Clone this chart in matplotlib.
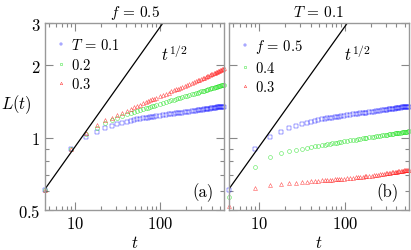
import numpy as np
import matplotlib.pyplot as plt
from matplotlib.ticker import FixedLocator, FixedFormatter, LogLocator, NullFormatter

plt.rcParams['mathtext.fontset'] = 'cm'
plt.rcParams['font.family'] = 'serif'
plt.rcParams['font.serif'] = ['cmr10', 'DejaVu Serif']

# sampling times (same for every series)
t = [4.47, 8.94, 13.41, 17.88, 22.35, 26.82, 31.29, 35.76, 40.23, 44.7,
     49.17, 53.64, 58.11, 62.58, 67.05, 71.52, 75.99, 80.46, 84.93, 89.4,
     98.34, 107.28, 116.22, 125.16, 134.1, 143.04, 151.98, 160.92, 169.86, 178.8,
     192.21, 205.62, 219.03, 232.44, 245.85, 259.26, 272.67, 286.08, 299.49, 312.9,
     326.31, 339.72, 353.13, 366.54, 379.95, 393.36, 406.77, 420.18, 433.59, 447.0,
     460.41, 473.82, 487.23, 500.64, 514.05, 527.46, 540.87, 554.28]

# panel (a): f = 0.5, different T  (T = 0.1 is also f = 0.5 in panel (b))
L_T01 = [0.607, 0.900, 1.010, 1.053, 1.100, 1.120, 1.137, 1.152, 1.165, 1.176,
         1.185, 1.192, 1.198, 1.204, 1.209, 1.213, 1.217, 1.221, 1.225, 1.228,
         1.234, 1.240, 1.245, 1.250, 1.254, 1.258, 1.262, 1.266, 1.270, 1.273,
         1.278, 1.282, 1.286, 1.290, 1.294, 1.297, 1.301, 1.304, 1.307, 1.310,
         1.313, 1.316, 1.318, 1.321, 1.323, 1.326, 1.328, 1.330, 1.332, 1.335,
         1.337, 1.339, 1.340, 1.342, 1.344, 1.346, 1.348, 1.349]
L_T02 = [0.607, 0.900, 1.035, 1.095, 1.150, 1.180, 1.207, 1.230, 1.250, 1.268,
         1.283, 1.296, 1.307, 1.317, 1.327, 1.336, 1.345, 1.353, 1.361, 1.369,
         1.383, 1.396, 1.408, 1.419, 1.429, 1.439, 1.449, 1.457, 1.466, 1.474,
         1.485, 1.496, 1.506, 1.516, 1.525, 1.534, 1.542, 1.550, 1.558, 1.565,
         1.572, 1.579, 1.585, 1.592, 1.598, 1.604, 1.610, 1.615, 1.621, 1.626,
         1.631, 1.636, 1.641, 1.646, 1.650, 1.655, 1.659, 1.664]
L_T03 = [0.607, 0.900, 1.050, 1.125, 1.180, 1.211, 1.243, 1.272, 1.298, 1.321,
         1.340, 1.358, 1.374, 1.390, 1.404, 1.418, 1.431, 1.443, 1.455, 1.466,
         1.487, 1.507, 1.525, 1.542, 1.558, 1.573, 1.588, 1.601, 1.614, 1.627,
         1.645, 1.661, 1.677, 1.692, 1.706, 1.720, 1.733, 1.746, 1.758, 1.769,
         1.781, 1.791, 1.802, 1.812, 1.822, 1.834, 1.844, 1.854, 1.865, 1.875,
         1.884, 1.894, 1.903, 1.912, 1.921, 1.929, 1.939, 1.948]

# panel (b): T = 0.1, different f
L_f05 = L_T01
L_f04 = [0.565, 0.757, 0.828, 0.864, 0.879, 0.891, 0.901, 0.909, 0.916, 0.922,
         0.928, 0.933, 0.937, 0.941, 0.945, 0.948, 0.951, 0.954, 0.957, 0.960,
         0.966, 0.971, 0.975, 0.979, 0.983, 0.986, 0.990, 0.993, 0.996, 0.999,
         1.003, 1.007, 1.010, 1.013, 1.017, 1.020, 1.023, 1.025, 1.028, 1.030,
         1.033, 1.035, 1.037, 1.039, 1.042, 1.044, 1.045, 1.047, 1.049, 1.051,
         1.053, 1.054, 1.056, 1.058, 1.059, 1.061, 1.062, 1.064]
L_f03 = [0.518, 0.616, 0.635, 0.642, 0.647, 0.651, 0.654, 0.657, 0.659, 0.661,
         0.663, 0.664, 0.666, 0.667, 0.669, 0.670, 0.671, 0.672, 0.673, 0.674,
         0.676, 0.678, 0.680, 0.682, 0.684, 0.686, 0.688, 0.689, 0.691, 0.692,
         0.694, 0.696, 0.698, 0.701, 0.703, 0.705, 0.707, 0.709, 0.711, 0.713,
         0.714, 0.716, 0.718, 0.719, 0.721, 0.722, 0.723, 0.725, 0.726, 0.727,
         0.728, 0.729, 0.731, 0.732, 0.733, 0.734, 0.735, 0.736]

labels_a = [r'$T\,=\,0.1$', r'$0.2$', r'$0.3$']
labels_b = [r'$f\,=\,0.5$', r'$0.4$', r'$0.3$']
markers = ['s', 'o', '^']
colors = ['#0000ff', '#00dd00', '#ff0000']
c_half = 0.29  # prefactor of the t^(1/2) guide line

fig = plt.figure(figsize=(4.11, 2.51), dpi=100)
ax_a = fig.add_axes([0.1095, 0.159, 0.436, 0.745])
ax_b = fig.add_axes([0.557, 0.159, 0.438, 0.745])

t_line = np.array([4.0, 600.0])
for ax, series, labels, title, tag in [
        (ax_a, [L_T01, L_T02, L_T03], labels_a, r'$f\,=\,0.5$', '(a)'),
        (ax_b, [L_f05, L_f04, L_f03], labels_b, r'$T\,=\,0.1$', '(b)')]:
    for L, m, c, lab in zip(series, markers, colors, labels):
        ax.plot(t, L, ls='none', marker=m, ms=2.8, mfc='none', mec=c,
                mew=0.3, alpha=0.9, label=lab, clip_on=False)
    ax.plot(t_line, c_half * np.sqrt(t_line), 'k-', lw=0.9)
    ax.set_xscale('log')
    ax.set_yscale('log')
    ax.set_xlim(4.45, 560)
    ax.set_ylim(0.5, 3)
    ax.yaxis.set_major_locator(FixedLocator([0.5, 1, 2, 3]))
    ax.yaxis.set_minor_locator(FixedLocator([0.6, 0.7, 0.8, 0.9]))
    ax.yaxis.set_minor_formatter(NullFormatter())
    ax.xaxis.set_major_locator(FixedLocator([10, 100]))
    ax.xaxis.set_major_formatter(FixedFormatter([r'$10$', r'$100$']))
    ax.xaxis.set_minor_locator(LogLocator(base=10, subs=np.arange(2, 10)))
    ax.xaxis.set_minor_formatter(NullFormatter())
    ax.tick_params(which='both', direction='in', top=True, right=True,
                   color='#888888', labelsize=12)
    ax.tick_params(which='major', length=6, width=0.8)
    ax.tick_params(which='minor', length=3, width=0.8)
    for s in ax.spines.values():
        s.set_color('#999999')
        s.set_linewidth(1.0)
    ax.set_title(title, fontsize=11, pad=5)
    ax.set_xlabel(r'$t$', fontsize=12, labelpad=2)
    ax.text(0.94, 0.096, tag, transform=ax.transAxes, ha='right', va='center',
            fontsize=12)
    leg = ax.legend(loc='upper left', bbox_to_anchor=(0.01, 0.97), frameon=False,
                    fontsize=10.5, handlelength=0.7, handletextpad=0.35,
                    labelspacing=0.3, borderaxespad=0.2, markerscale=0.65)

ax_a.yaxis.set_major_formatter(FixedFormatter([r'$0.5$', r'$1$', r'$2$', r'$3$']))
ax_b.yaxis.set_major_formatter(NullFormatter())
ax_a.set_ylabel(r'$L(t)$', fontsize=12, rotation=0, va='center', ha='center')
ax_a.yaxis.set_label_coords(-0.16, 0.57)
ax_a.text(148, 2.25, r'$t^{1/2}$', fontsize=12, ha='center', va='center')
ax_b.text(140, 2.25, r'$t^{1/2}$', fontsize=12, ha='center', va='center')

fig.savefig('out.png', dpi=100)
